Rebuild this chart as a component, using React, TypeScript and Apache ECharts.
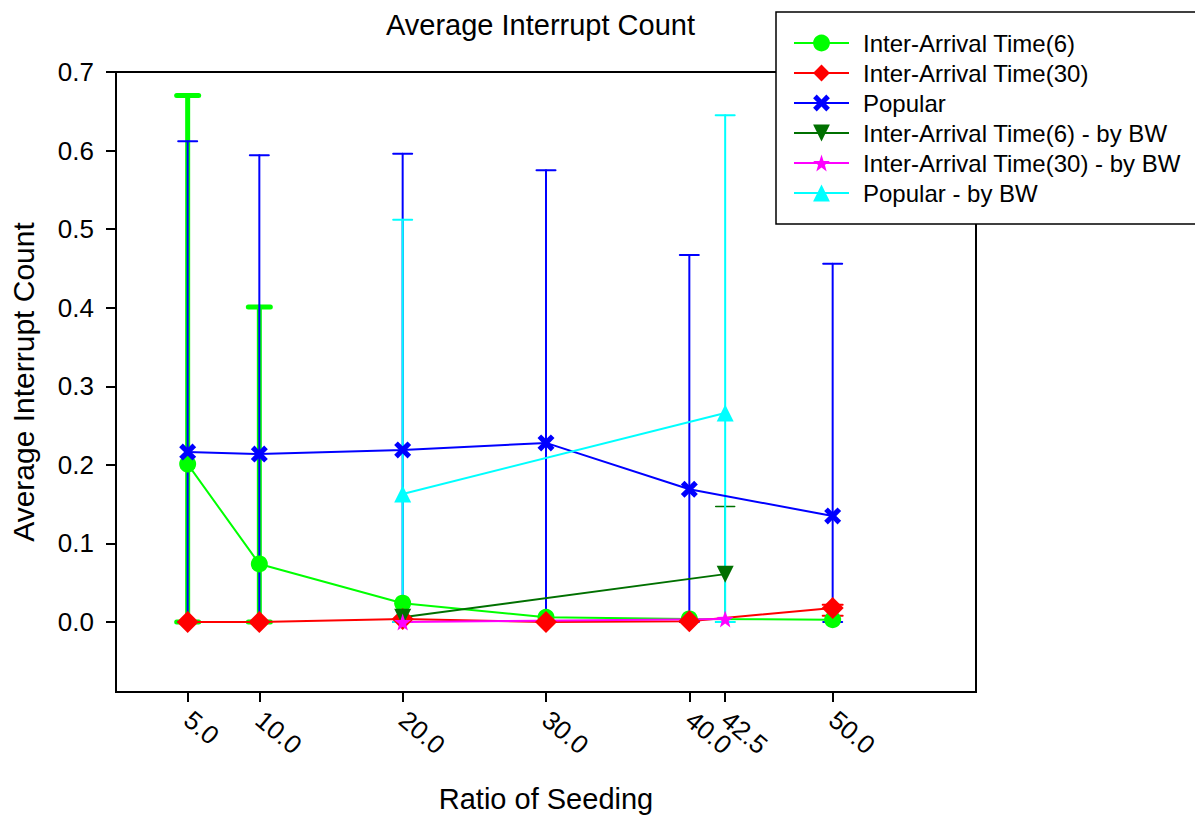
import React, { useEffect, useRef } from "react";
import * as echarts from "echarts";

const xMain = [5, 10, 20, 30, 40, 50];
const xBW = [20, 42.5];
const xTickValues = [5, 10, 20, 30, 40, 42.5, 50];
const yTickValues = [0, 0.1, 0.2, 0.3, 0.4, 0.5, 0.6, 0.7];

const iat6 = [0.201, 0.074, 0.024, 0.006, 0.004, 0.003];
const iat6Lo = [0, 0, 0, 0, 0, 0];
const iat6Hi = [0.67, 0.401, 0, 0, 0, 0];

const iat30 = [0.0, 0.0, 0.004, 0.0, 0.001, 0.018];
const iat30Lo = [0, 0, 0, 0, 0, 0.008];
const iat30Hi = [0, 0, 0, 0, 0, 0.022];

const popular = [0.2164, 0.2138, 0.219, 0.228, 0.169, 0.135];
const popularLo = [0, 0, 0, 0, 0, 0];
const popularHi = [0.612, 0.594, 0.596, 0.575, 0.467, 0.456];

const iat6BW = [0.006, 0.061];
const iat6BWLo = [0, 0];
const iat6BWHi = [0, 0.147];

const iat30BW = [0.0, 0.004];

const popularBW = [0.163, 0.266];
const popularBWLo = [0, 0];
const popularBWHi = [0.512, 0.645];

const names = [
  "Inter-Arrival Time(6)",
  "Inter-Arrival Time(30)",
  "Popular",
  "Inter-Arrival Time(6) - by BW",
  "Inter-Arrival Time(30) - by BW",
  "Popular - by BW",
];

const FONT = "Liberation Sans, Arial, Helvetica, sans-serif";
const X_PATH =
  "path://M0,3 L3,0 L7,4 L11,0 L14,3 L10,7 L14,11 L11,14 L7,10 L3,14 L0,11 L4,7 Z";
const STAR_PATH =
  "path://M50,0 L61.76,33.82 L97.55,34.55 L69.02,56.18 L79.39,90.45 L50,70 L20.61,90.45 L30.98,56.18 L2.45,34.55 L38.24,33.82 Z";

function errSeries(
  id: string,
  xs: number[],
  lo: number[],
  hi: number[],
  color: string,
  width: number,
  capW: number
) {
  const data = xs
    .map((x, i) => [x, lo[i], hi[i]])
    .filter((d) => d[2] > d[1]);
  return {
    type: "custom",
    name: id,
    data,
    silent: true,
    encode: { x: 0, y: [1, 2] },
    renderItem: (params: any, api: any) => {
      const x = api.value(0);
      const l = api.value(1);
      const h = api.value(2);
      const p1 = api.coord([x, l]);
      const p2 = api.coord([x, h]);
      const half = capW / 2;
      const style = { stroke: color, lineWidth: width, lineCap: "round" };
      return {
        type: "group",
        children: [
          { type: "line", shape: { x1: p1[0], y1: p1[1], x2: p2[0], y2: p2[1] }, style },
          { type: "line", shape: { x1: p1[0] - half, y1: p1[1], x2: p1[0] + half, y2: p1[1] }, style },
          { type: "line", shape: { x1: p2[0] - half, y1: p2[1], x2: p2[0] + half, y2: p2[1] }, style },
        ],
      };
    },
  };
}

function lineSeries(
  name: string,
  xs: number[],
  ys: number[],
  color: string,
  symbol: string,
  size: number,
  rotate = 0
) {
  return {
    type: "line",
    name,
    data: xs.map((x, i) => [x, ys[i]]),
    symbol,
    symbolSize: size,
    symbolRotate: rotate,
    showSymbol: true,
    lineStyle: { color, width: 2 },
    itemStyle: { color, borderWidth: 0 },
    emphasis: { disabled: true },
  };
}

export default function App() {
  const ref = useRef<HTMLDivElement>(null);
  useEffect(() => {
    if (!ref.current) return;
    const chart = echarts.init(ref.current, undefined, { renderer: "svg" });
    const option: any = {
      animation: false,
      title: {
        text: "Average Interrupt Count",
        left: 386,
        top: 10,
        padding: 0,
        textStyle: { fontFamily: FONT, fontSize: 29, fontWeight: "normal", color: "#000" },
      },
      legend: {
        data: names,
        orient: "vertical",
        left: 776,
        top: 12,
        padding: [19, 40, 19, 17],
        itemWidth: 55,
        itemHeight: 21,
        itemGap: 6,
        backgroundColor: "#fff",
        borderColor: "#000",
        borderWidth: 1.5,
        borderRadius: 0,
        selectedMode: false,
        textStyle: { fontFamily: FONT, fontSize: 24, color: "#000", padding: [0, 0, 0, 9] },
      },
      grid: {
        left: 116,
        top: 72,
        right: 219,
        bottom: 126,
        outerBoundsMode: "none",
        containLabel: false,
        show: true,
        borderColor: "#000",
        borderWidth: 2,
        backgroundColor: "transparent",
      },
      xAxis: {
        type: "value",
        min: 0,
        max: 60,
        name: "Ratio of Seeding",
        nameLocation: "middle",
        nameGap: 92,
        nameTextStyle: { fontFamily: FONT, fontSize: 29, color: "#000" },
        axisLine: { show: true, onZero: false, lineStyle: { color: "#000", width: 2 } },
        axisTick: { show: true, length: 10, lineStyle: { color: "#000", width: 2 }, customValues: xTickValues },
        axisLabel: {
          customValues: xTickValues,
          rotate: -40,
          margin: 24,
          fontFamily: FONT,
          fontSize: 26,
          color: "#000",
          formatter: (v: number) => v.toFixed(1),
        },
        splitLine: { show: false },
      },
      yAxis: {
        type: "value",
        min: -0.089,
        max: 0.7,
        name: "Average Interrupt Count",
        nameLocation: "middle",
        nameGap: 78,
        nameTextStyle: { fontFamily: FONT, fontSize: 30, color: "#000" },
        axisLine: { show: true, onZero: false, lineStyle: { color: "#000", width: 2 } },
        axisTick: { show: true, length: 10, lineStyle: { color: "#000", width: 2 }, customValues: yTickValues },
        axisLabel: {
          customValues: yTickValues,
          margin: 22,
          fontFamily: FONT,
          fontSize: 26,
          color: "#000",
          formatter: (v: number) => v.toFixed(1),
        },
        splitLine: { show: false },
      },
      series: [
        errSeries("err-iat6", xMain, iat6Lo, iat6Hi, "#00ff00", 5, 22),
        lineSeries(names[0], xMain, iat6, "#00ff00", "circle", 17),
        errSeries("err-iat30", xMain, iat30Lo, iat30Hi, "#ff0000", 2, 20),
        lineSeries(names[1], xMain, iat30, "#ff0000", "diamond", 22),
        errSeries("err-pop", xMain, popularLo, popularHi, "#0000ff", 2, 19),
        lineSeries(names[2], xMain, popular, "#0000ff", X_PATH, 17),
        errSeries("err-iat6bw", xBW, iat6BWLo, iat6BWHi, "#007000", 1.5, 19),
        lineSeries(names[3], xBW, iat6BW, "#007000", "triangle", 17, 180),
        lineSeries(names[4], xBW, iat30BW, "#ff00ff", STAR_PATH, 17),
        errSeries("err-popbw", xBW, popularBWLo, popularBWHi, "#00ffff", 2, 19),
        lineSeries(names[5], xBW, popularBW, "#00ffff", "triangle", 17),
      ],
    };
    chart.setOption(option);
    return () => chart.dispose();
  }, []);
  return (
    <div
      ref={ref}
      style={{ position: "absolute", left: 0, top: 0, width: 1195, height: 818, background: "#fff" }}
    />
  );
}
